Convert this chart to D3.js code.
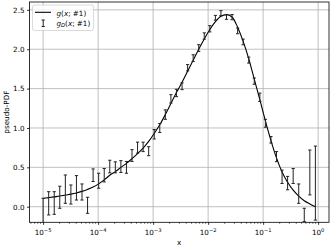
<!DOCTYPE html>
<html><head><meta charset="utf-8">
<script src="https://cdn.jsdelivr.net/npm/d3@7"></script>
<style>html,body{margin:0;padding:0;background:#fff;}svg{display:block;font-family:"DejaVu Sans",sans-serif;}</style>
</head><body><svg id="c" width="332" height="249"></svg>
<script>
// x positions of the points (log spaced)
const xVals = [1.000e-5,1.262e-5,1.592e-5,2.009e-5,2.535e-5,3.199e-5,4.036e-5,5.093e-5,6.427e-5,8.110e-5,
  1.023e-4,1.291e-4,1.629e-4,2.056e-4,2.594e-4,3.273e-4,4.130e-4,5.212e-4,6.577e-4,8.299e-4,
  1.047e-3,1.321e-3,1.667e-3,2.104e-3,2.655e-3,3.357e-3,4.236e-3,5.346e-3,6.745e-3,8.511e-3,
  1.074e-2,1.355e-2,1.710e-2,2.158e-2,2.723e-2,3.436e-2,4.335e-2,5.470e-2,6.902e-2,8.710e-2,
  0.1099,0.1387,0.1750,0.2208,0.2786,0.3516,0.4436,0.5598,0.7063,0.8913];
// model curve g(x; #1)
const gCurve = [0.105,0.115,0.125,0.135,0.148,0.160,0.175,0.195,0.220,0.250,
  0.290,0.340,0.400,0.445,0.500,0.550,0.610,0.675,0.745,0.830,
  0.930,1.040,1.170,1.310,1.450,1.580,1.720,1.860,2.000,2.130,
  2.250,2.350,2.420,2.440,2.410,2.280,2.100,1.880,1.620,1.360,
  1.090,0.840,0.620,0.440,0.310,0.210,0.135,0.075,0.035,0.000];
// data g_D(x; #1) and its errors
const gdVals = [-0.060,0.043,0.047,0.120,0.223,0.155,0.240,0.187,0.018,0.400,
  0.330,0.400,0.510,0.500,0.510,0.500,0.650,0.750,0.760,0.705,
  0.920,1.000,1.170,1.370,1.445,1.530,1.765,1.887,2.015,2.168,
  2.260,2.400,2.458,2.410,2.408,2.233,2.093,1.862,1.595,1.390,
  1.060,0.850,0.636,0.380,0.300,0.390,0.166,-0.105,0.435,0.300];
const gdErr = [0.167,0.148,0.144,0.140,0.180,0.121,0.155,0.102,0.102,0.080,
  0.095,0.085,0.080,0.070,0.075,0.075,0.075,0.070,0.060,0.057,
  0.060,0.057,0.060,0.053,0.047,0.043,0.040,0.043,0.043,0.040,
  0.040,0.030,0.032,0.030,0.033,0.036,0.036,0.038,0.040,0.053,
  0.050,0.042,0.064,0.085,0.085,0.095,0.123,0.085,0.285,0.470];
const xTicks = [1e-5,1e-4,1e-3,1e-2,1e-1,1e0];
const xTickExp = ["\u22125","\u22124","\u22123","\u22122","\u22121","0"];
const yTicks = [0,0.5,1.0,1.5,2.0,2.5];
const yTickLabels = ["0.0","0.5","1.0","1.5","2.0","2.5"];
const xLimits = [Math.pow(10,-5.2475), Math.pow(10,0.1975)];
const yLimits = [-0.198, 2.6];

const svg = d3.select("#c");
const L=29.5, R=329, T=2, B=222.3;
const x = d3.scaleLog().domain(xLimits).range([L,R]);
const y = d3.scaleLinear().domain(yLimits).range([B,T]);

// grid
const grid = svg.append("g");
grid.selectAll("line.gx").data(xTicks).join("line")
  .attr("x1",d=>x(d)).attr("x2",d=>x(d)).attr("y1",T).attr("y2",B)
  .attr("stroke","#b0b0b0").attr("stroke-width",0.8);
grid.selectAll("line.gy").data(yTicks).join("line")
  .attr("y1",d=>y(d)).attr("y2",d=>y(d)).attr("x1",L).attr("x2",R)
  .attr("stroke","#b0b0b0").attr("stroke-width",0.8);

svg.append("clipPath").attr("id","clip").append("rect")
  .attr("x",L).attr("y",T).attr("width",R-L).attr("height",B-T);
const plot = svg.append("g").attr("clip-path","url(#clip)");

// curve
const line = d3.line().x((d,i)=>x(xVals[i])).y(d=>y(d)).curve(d3.curveMonotoneX);
plot.append("path").datum(gCurve).attr("d",line).attr("fill","none")
  .attr("stroke","#000").attr("stroke-width",1.1);

// error bars
const eb = plot.selectAll("g.eb").data(gdVals).join("g");
eb.append("line").attr("x1",(d,i)=>x(xVals[i])).attr("x2",(d,i)=>x(xVals[i]))
  .attr("y1",(d,i)=>y(d-gdErr[i])).attr("y2",(d,i)=>y(d+gdErr[i]))
  .attr("stroke","#222").attr("stroke-width",1);
[-1,1].forEach(s=>{
  eb.append("line").attr("x1",(d,i)=>x(xVals[i])-1.6).attr("x2",(d,i)=>x(xVals[i])+1.6)
    .attr("y1",(d,i)=>y(d+s*gdErr[i])).attr("y2",(d,i)=>y(d+s*gdErr[i]))
    .attr("stroke","#222").attr("stroke-width",1);
});

// axes frame
svg.append("rect").attr("x",L).attr("y",T).attr("width",R-L).attr("height",B-T)
  .attr("fill","none").attr("stroke","#000").attr("stroke-width",0.8);

// x axis
const xAxis = d3.axisBottom(x).tickValues(xTicks).tickSize(2.5).tickPadding(2.5).tickFormat("");
const gx = svg.append("g").attr("transform",`translate(0,${B})`).call(xAxis);
gx.select(".domain").remove();
gx.selectAll(".tick line").attr("stroke","#000").attr("stroke-width",0.8);
// minor ticks
const minor=[];
for(let e=-6;e<=0;e++) for(let m=2;m<=9;m++){const v=m*Math.pow(10,e); if(v>xLimits[0]&&v<xLimits[1]) minor.push(v);}
svg.append("g").selectAll("line").data(minor).join("line")
  .attr("x1",d=>x(d)).attr("x2",d=>x(d)).attr("y1",B).attr("y2",B+1.5)
  .attr("stroke","#000").attr("stroke-width",0.6);
const xl = svg.append("g").selectAll("text").data(xTicks).join("text")
  .attr("x",d=>x(d)).attr("y",235).attr("text-anchor","middle")
  .attr("font-size",7.2).attr("fill","#000");
xl.append("tspan").text("10");
xl.append("tspan").attr("dy",-3).attr("font-size",5.2).text((d,i)=>xTickExp[i]);

// y axis
const yAxis = d3.axisLeft(y).tickValues(yTicks).tickSize(2.5).tickPadding(2.5).tickFormat((d,i)=>yTickLabels[i]);
const gy = svg.append("g").attr("transform",`translate(${L},0)`).call(yAxis);
gy.select(".domain").remove();
gy.selectAll(".tick line").attr("stroke","#000").attr("stroke-width",0.8);
gy.selectAll(".tick text").attr("font-size",7.2).attr("font-family","DejaVu Sans").attr("fill","#000");

// labels
svg.append("text").attr("x",(L+R)/2).attr("y",244.5).attr("text-anchor","middle")
  .attr("font-size",7.2).text("x");
svg.append("text").attr("transform",`translate(8.5,${(T+B)/2}) rotate(-90)`)
  .attr("text-anchor","middle").attr("font-size",7.2).text("pseudo-PDF");

// legend
const lg = svg.append("g");
lg.append("rect").attr("x",32.5).attr("y",5).attr("width",61).attr("height",25.5).attr("rx",2)
  .attr("fill","#fff").attr("fill-opacity",0.8).attr("stroke","#ccc").attr("stroke-width",0.7);
lg.append("line").attr("x1",35).attr("x2",51).attr("y1",12.3).attr("y2",12.3)
  .attr("stroke","#000").attr("stroke-width",1.1);
lg.append("line").attr("x1",43.2).attr("x2",43.2).attr("y1",20).attr("y2",26.5).attr("stroke","#222");
lg.append("line").attr("x1",41.6).attr("x2",44.8).attr("y1",20).attr("y2",20).attr("stroke","#222");
lg.append("line").attr("x1",41.6).attr("x2",44.8).attr("y1",26.5).attr("y2",26.5).attr("stroke","#222");
const t1 = lg.append("text").attr("x",56.5).attr("y",15.5).attr("font-size",7.2);
t1.append("tspan").attr("font-style","italic").text("g");
t1.append("tspan").text("(");
t1.append("tspan").attr("font-style","italic").text("x");
t1.append("tspan").text("; #1)");
const t2 = lg.append("text").attr("x",56.5).attr("y",25.5).attr("font-size",7.2);
t2.append("tspan").attr("font-style","italic").text("g");
t2.append("tspan").attr("font-style","italic").attr("font-size",5.2).attr("dy",1.5).text("D");
t2.append("tspan").attr("dy",-1.5).text("(");
t2.append("tspan").attr("font-style","italic").text("x");
t2.append("tspan").text("; #1)");
</script></body></html>
